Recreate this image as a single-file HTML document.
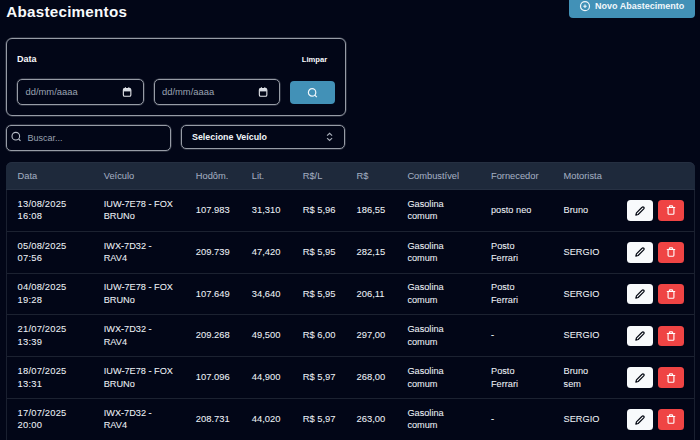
<!DOCTYPE html>
<html><head><meta charset="utf-8"><style>
html,body{margin:0;padding:0;}
body{width:700px;height:440px;overflow:hidden;background:#020617;position:relative;font-family:"Liberation Sans", sans-serif;}
.t{position:absolute;white-space:nowrap;}
.r{position:absolute;}
.row{position:absolute;left:6px;width:688.5px;height:41.8px;}
.c{position:absolute;top:0;height:41.8px;display:flex;align-items:center;font-size:9.2px;line-height:12.6px;color:#eef2f7;-webkit-text-stroke:0.05px #eef2f7;white-space:nowrap;}
.eb,.db{position:absolute;top:10.8px;width:25.8px;height:20.6px;border-radius:3.5px;display:flex;align-items:center;justify-content:center;}
.eb{background:#f8fafc;}
.db{background:#ef4444;}
svg{display:block;}
</style></head><body>
<div class="t" style="left:6.30px;top:4.23px;font-size:15.2px;line-height:15.2px;font-weight:700;color:#f8fafc;letter-spacing:0.25px;">Abastecimentos</div>
<div class="r" style="left:569px;top:-6px;width:125.5px;height:23.5px;background:#4291b7;border-radius:4px;"></div>
<svg class="r" style="left:579px;top:0px" width="12" height="12" viewBox="0 0 12 12"><circle cx="6" cy="6.2" r="4.5" fill="none" stroke="#f1f7fb" stroke-width="1.2"/><path d="M6 4.5v3.4M4.3 6.2h3.4" stroke="#f1f7fb" stroke-width="1.1" fill="none"/></svg>
<div class="t" style="left:595.00px;top:2.08px;font-size:9px;line-height:9px;font-weight:700;color:#f1f7fb;letter-spacing:0px;">Novo Abastecimento</div>
<div class="r" style="left:6px;top:38px;width:340px;height:77.6px;box-sizing:border-box;border:1px solid #979ca6;border-radius:6px;box-shadow:0 0 0 0.5px rgba(151,156,166,0.45);"></div>
<div class="t" style="left:17.00px;top:55.18px;font-size:9px;line-height:9px;font-weight:700;color:#f8fafc;letter-spacing:0px;">Data</div>
<div class="t" style="left:301.80px;top:55.77px;font-size:7.6px;line-height:7.6px;font-weight:700;color:#f8fafc;letter-spacing:0px;">Limpar</div>
<div class="r" style="left:17px;top:79.2px;width:126.5px;height:25.6px;box-sizing:border-box;border:1px solid #979ca6;border-radius:5px;box-shadow:0 0 0 0.5px rgba(151,156,166,0.45);"></div>
<div class="t" style="left:25.50px;top:87.24px;font-size:9.4px;line-height:9.4px;font-weight:400;color:#9aa3b2;letter-spacing:0px;">dd/mm/aaaa</div>
<svg class="r" style="left:121.5px;top:86px" width="11" height="12" viewBox="0 0 11 12"><rect x="1.35" y="2.6" width="7.5" height="7.6" rx="1.3" fill="none" stroke="#e5e7eb" stroke-width="1.1"/><rect x="1.4" y="2.6" width="7.4" height="2.8" fill="#d8dce3"/><path d="M3.4 1.2v1.8M6.8 1.2v1.8" stroke="#e5e7eb" stroke-width="1.1" fill="none"/></svg>
<div class="r" style="left:153.5px;top:79.2px;width:126.5px;height:25.6px;box-sizing:border-box;border:1px solid #979ca6;border-radius:5px;box-shadow:0 0 0 0.5px rgba(151,156,166,0.45);"></div>
<div class="t" style="left:162.00px;top:87.24px;font-size:9.4px;line-height:9.4px;font-weight:400;color:#9aa3b2;letter-spacing:0px;">dd/mm/aaaa</div>
<svg class="r" style="left:258px;top:86px" width="11" height="12" viewBox="0 0 11 12"><rect x="1.35" y="2.6" width="7.5" height="7.6" rx="1.3" fill="none" stroke="#e5e7eb" stroke-width="1.1"/><rect x="1.4" y="2.6" width="7.4" height="2.8" fill="#d8dce3"/><path d="M3.4 1.2v1.8M6.8 1.2v1.8" stroke="#e5e7eb" stroke-width="1.1" fill="none"/></svg>
<div class="r" style="left:290.3px;top:81px;width:44.8px;height:23px;background:#4291b7;border-radius:4px;"></div>
<svg class="r" style="left:306px;top:86px" width="13" height="13" viewBox="0 0 13 13"><circle cx="6.1" cy="6.4" r="3.7" fill="none" stroke="#f1f7fb" stroke-width="1.2"/><path d="M8.8 9.1l2 2" stroke="#f1f7fb" stroke-width="1.2" fill="none"/></svg>
<div class="r" style="left:6px;top:125px;width:165px;height:25.5px;box-sizing:border-box;border:1px solid #979ca6;border-radius:5px;box-shadow:0 0 0 0.5px rgba(151,156,166,0.45);"></div>
<svg class="r" style="left:10px;top:130px" width="13" height="13" viewBox="0 0 13 13"><circle cx="5.8" cy="6.2" r="3.8" fill="none" stroke="#b8bec8" stroke-width="1.1"/><path d="M8.6 9l1.9 1.9" stroke="#b8bec8" stroke-width="1.1" fill="none"/></svg>
<div class="t" style="left:27.50px;top:134.48px;font-size:9px;line-height:9px;font-weight:400;color:#9aa3b2;letter-spacing:0px;">Buscar...</div>
<div class="r" style="left:181.3px;top:125.2px;width:164.2px;height:24px;box-sizing:border-box;border:1px solid #979ca6;border-radius:5px;box-shadow:0 0 0 0.5px rgba(151,156,166,0.45);"></div>
<div class="t" style="left:192.00px;top:132.57px;font-size:8.9px;line-height:8.9px;font-weight:700;color:#f1f5f9;letter-spacing:0px;">Selecione Veículo</div>
<svg class="r" style="left:326px;top:132px" width="8" height="10" viewBox="0 0 8 10"><path d="M1.1 3.7L3.6 1.3L6.1 3.7M1.1 6.1L3.6 8.5L6.1 6.1" fill="none" stroke="#a9afba" stroke-width="1.15"/></svg>
<div class="r" style="left:6px;top:161.5px;width:688.5px;height:28px;background:#1e293b;border-radius:6px 6px 0 0;box-shadow:inset 0 1px 0 #252f41, inset 0 -1px 0 #273143;"></div>
<div class="r" style="left:6px;top:189.5px;width:688.5px;height:300px;box-sizing:border-box;border-left:1px solid #1a2030;border-right:1px solid #1a2030;"></div>
<div class="t" style="left:17.60px;top:171.73px;font-size:9.3px;line-height:9.3px;font-weight:400;color:#a3aec0;letter-spacing:0px;-webkit-text-stroke:0.05px #a3aec0;">Data</div>
<div class="t" style="left:103.70px;top:171.73px;font-size:9.3px;line-height:9.3px;font-weight:400;color:#a3aec0;letter-spacing:0px;-webkit-text-stroke:0.05px #a3aec0;">Veículo</div>
<div class="t" style="left:195.80px;top:171.73px;font-size:9.3px;line-height:9.3px;font-weight:400;color:#a3aec0;letter-spacing:0px;-webkit-text-stroke:0.05px #a3aec0;">Hodôm.</div>
<div class="t" style="left:251.80px;top:171.73px;font-size:9.3px;line-height:9.3px;font-weight:400;color:#a3aec0;letter-spacing:0px;-webkit-text-stroke:0.05px #a3aec0;">Lit.</div>
<div class="t" style="left:302.70px;top:171.73px;font-size:9.3px;line-height:9.3px;font-weight:400;color:#a3aec0;letter-spacing:0px;-webkit-text-stroke:0.05px #a3aec0;">R$/L</div>
<div class="t" style="left:356.50px;top:171.73px;font-size:9.3px;line-height:9.3px;font-weight:400;color:#a3aec0;letter-spacing:0px;-webkit-text-stroke:0.05px #a3aec0;">R$</div>
<div class="t" style="left:407.40px;top:171.73px;font-size:9.3px;line-height:9.3px;font-weight:400;color:#a3aec0;letter-spacing:0px;-webkit-text-stroke:0.05px #a3aec0;">Combustível</div>
<div class="t" style="left:491.00px;top:171.73px;font-size:9.3px;line-height:9.3px;font-weight:400;color:#a3aec0;letter-spacing:0px;-webkit-text-stroke:0.05px #a3aec0;">Fornecedor</div>
<div class="t" style="left:563.60px;top:171.73px;font-size:9.3px;line-height:9.3px;font-weight:400;color:#a3aec0;letter-spacing:0px;-webkit-text-stroke:0.05px #a3aec0;">Motorista</div>
<div class="row" style="top:189.50px"><div class="c" style="left:11.60px;font-size:9.4px;letter-spacing:0.2px;">13/08/2025<br>16:08</div><div class="c" style="left:97.70px;">IUW-7E78 - FOX<br>BRUNo</div><div class="c" style="left:189.80px;font-size:9.4px;">107.983</div><div class="c" style="left:245.80px;font-size:9.4px;">31,310</div><div class="c" style="left:296.70px;font-size:9.4px;">R$ 5,96</div><div class="c" style="left:350.50px;font-size:9.4px;">186,55</div><div class="c" style="left:401.40px;">Gasolina<br>comum</div><div class="c" style="left:485.00px;">posto neo</div><div class="c" style="left:557.60px;">Bruno</div><div class="eb" style="left:621.30px"><svg width="10" height="10" viewBox="0 0 24 24"><path d="M17 3a2.83 2.83 0 1 1 4 4L7.5 20.5 2 22l1.5-5.5L17 3z" fill="none" stroke="#030712" stroke-width="2.9" stroke-linejoin="round"/></svg></div><div class="db" style="left:652.40px"><svg width="10" height="10.5" viewBox="0 0 24 25"><path d="M3 6h18M19 6v14c0 1-1 2-2 2H7c-1 0-2-1-2-2V6M8 6V4c0-1 1-2 2-2h4c1 0 2 1 2 2v2" fill="none" stroke="#ffffff" stroke-width="2.7" stroke-linecap="round" stroke-linejoin="round"/></svg></div></div>
<div class="r" style="left:7px;top:231px;width:686.5px;height:1px;background:#1c2231;"></div>
<div class="row" style="top:231.30px"><div class="c" style="left:11.60px;font-size:9.4px;letter-spacing:0.2px;">05/08/2025<br>07:56</div><div class="c" style="left:97.70px;">IWX-7D32 -<br>RAV4</div><div class="c" style="left:189.80px;font-size:9.4px;">209.739</div><div class="c" style="left:245.80px;font-size:9.4px;">47,420</div><div class="c" style="left:296.70px;font-size:9.4px;">R$ 5,95</div><div class="c" style="left:350.50px;font-size:9.4px;">282,15</div><div class="c" style="left:401.40px;">Gasolina<br>comum</div><div class="c" style="left:485.00px;">Posto<br>Ferrari</div><div class="c" style="left:557.60px;">SERGIO</div><div class="eb" style="left:621.30px"><svg width="10" height="10" viewBox="0 0 24 24"><path d="M17 3a2.83 2.83 0 1 1 4 4L7.5 20.5 2 22l1.5-5.5L17 3z" fill="none" stroke="#030712" stroke-width="2.9" stroke-linejoin="round"/></svg></div><div class="db" style="left:652.40px"><svg width="10" height="10.5" viewBox="0 0 24 25"><path d="M3 6h18M19 6v14c0 1-1 2-2 2H7c-1 0-2-1-2-2V6M8 6V4c0-1 1-2 2-2h4c1 0 2 1 2 2v2" fill="none" stroke="#ffffff" stroke-width="2.7" stroke-linecap="round" stroke-linejoin="round"/></svg></div></div>
<div class="r" style="left:7px;top:273px;width:686.5px;height:1px;background:#1c2231;"></div>
<div class="row" style="top:273.10px"><div class="c" style="left:11.60px;font-size:9.4px;letter-spacing:0.2px;">04/08/2025<br>19:28</div><div class="c" style="left:97.70px;">IUW-7E78 - FOX<br>BRUNo</div><div class="c" style="left:189.80px;font-size:9.4px;">107.649</div><div class="c" style="left:245.80px;font-size:9.4px;">34,640</div><div class="c" style="left:296.70px;font-size:9.4px;">R$ 5,95</div><div class="c" style="left:350.50px;font-size:9.4px;">206,11</div><div class="c" style="left:401.40px;">Gasolina<br>comum</div><div class="c" style="left:485.00px;">Posto<br>Ferrari</div><div class="c" style="left:557.60px;">SERGIO</div><div class="eb" style="left:621.30px"><svg width="10" height="10" viewBox="0 0 24 24"><path d="M17 3a2.83 2.83 0 1 1 4 4L7.5 20.5 2 22l1.5-5.5L17 3z" fill="none" stroke="#030712" stroke-width="2.9" stroke-linejoin="round"/></svg></div><div class="db" style="left:652.40px"><svg width="10" height="10.5" viewBox="0 0 24 25"><path d="M3 6h18M19 6v14c0 1-1 2-2 2H7c-1 0-2-1-2-2V6M8 6V4c0-1 1-2 2-2h4c1 0 2 1 2 2v2" fill="none" stroke="#ffffff" stroke-width="2.7" stroke-linecap="round" stroke-linejoin="round"/></svg></div></div>
<div class="r" style="left:7px;top:314px;width:686.5px;height:1px;background:#1c2231;"></div>
<div class="row" style="top:314.90px"><div class="c" style="left:11.60px;font-size:9.4px;letter-spacing:0.2px;">21/07/2025<br>13:39</div><div class="c" style="left:97.70px;">IWX-7D32 -<br>RAV4</div><div class="c" style="left:189.80px;font-size:9.4px;">209.268</div><div class="c" style="left:245.80px;font-size:9.4px;">49,500</div><div class="c" style="left:296.70px;font-size:9.4px;">R$ 6,00</div><div class="c" style="left:350.50px;font-size:9.4px;">297,00</div><div class="c" style="left:401.40px;">Gasolina<br>comum</div><div class="c" style="left:485.00px;">-</div><div class="c" style="left:557.60px;">SERGIO</div><div class="eb" style="left:621.30px"><svg width="10" height="10" viewBox="0 0 24 24"><path d="M17 3a2.83 2.83 0 1 1 4 4L7.5 20.5 2 22l1.5-5.5L17 3z" fill="none" stroke="#030712" stroke-width="2.9" stroke-linejoin="round"/></svg></div><div class="db" style="left:652.40px"><svg width="10" height="10.5" viewBox="0 0 24 25"><path d="M3 6h18M19 6v14c0 1-1 2-2 2H7c-1 0-2-1-2-2V6M8 6V4c0-1 1-2 2-2h4c1 0 2 1 2 2v2" fill="none" stroke="#ffffff" stroke-width="2.7" stroke-linecap="round" stroke-linejoin="round"/></svg></div></div>
<div class="r" style="left:7px;top:356px;width:686.5px;height:1px;background:#1c2231;"></div>
<div class="row" style="top:356.70px"><div class="c" style="left:11.60px;font-size:9.4px;letter-spacing:0.2px;">18/07/2025<br>13:31</div><div class="c" style="left:97.70px;">IUW-7E78 - FOX<br>BRUNo</div><div class="c" style="left:189.80px;font-size:9.4px;">107.096</div><div class="c" style="left:245.80px;font-size:9.4px;">44,900</div><div class="c" style="left:296.70px;font-size:9.4px;">R$ 5,97</div><div class="c" style="left:350.50px;font-size:9.4px;">268,00</div><div class="c" style="left:401.40px;">Gasolina<br>comum</div><div class="c" style="left:485.00px;">Posto<br>Ferrari</div><div class="c" style="left:557.60px;">Bruno<br>sem</div><div class="eb" style="left:621.30px"><svg width="10" height="10" viewBox="0 0 24 24"><path d="M17 3a2.83 2.83 0 1 1 4 4L7.5 20.5 2 22l1.5-5.5L17 3z" fill="none" stroke="#030712" stroke-width="2.9" stroke-linejoin="round"/></svg></div><div class="db" style="left:652.40px"><svg width="10" height="10.5" viewBox="0 0 24 25"><path d="M3 6h18M19 6v14c0 1-1 2-2 2H7c-1 0-2-1-2-2V6M8 6V4c0-1 1-2 2-2h4c1 0 2 1 2 2v2" fill="none" stroke="#ffffff" stroke-width="2.7" stroke-linecap="round" stroke-linejoin="round"/></svg></div></div>
<div class="r" style="left:7px;top:398px;width:686.5px;height:1px;background:#1c2231;"></div>
<div class="row" style="top:398.50px"><div class="c" style="left:11.60px;font-size:9.4px;letter-spacing:0.2px;">17/07/2025<br>20:00</div><div class="c" style="left:97.70px;">IWX-7D32 -<br>RAV4</div><div class="c" style="left:189.80px;font-size:9.4px;">208.731</div><div class="c" style="left:245.80px;font-size:9.4px;">44,020</div><div class="c" style="left:296.70px;font-size:9.4px;">R$ 5,97</div><div class="c" style="left:350.50px;font-size:9.4px;">263,00</div><div class="c" style="left:401.40px;">Gasolina<br>comum</div><div class="c" style="left:485.00px;">-</div><div class="c" style="left:557.60px;">SERGIO</div><div class="eb" style="left:621.30px"><svg width="10" height="10" viewBox="0 0 24 24"><path d="M17 3a2.83 2.83 0 1 1 4 4L7.5 20.5 2 22l1.5-5.5L17 3z" fill="none" stroke="#030712" stroke-width="2.9" stroke-linejoin="round"/></svg></div><div class="db" style="left:652.40px"><svg width="10" height="10.5" viewBox="0 0 24 25"><path d="M3 6h18M19 6v14c0 1-1 2-2 2H7c-1 0-2-1-2-2V6M8 6V4c0-1 1-2 2-2h4c1 0 2 1 2 2v2" fill="none" stroke="#ffffff" stroke-width="2.7" stroke-linecap="round" stroke-linejoin="round"/></svg></div></div>
</body></html>
